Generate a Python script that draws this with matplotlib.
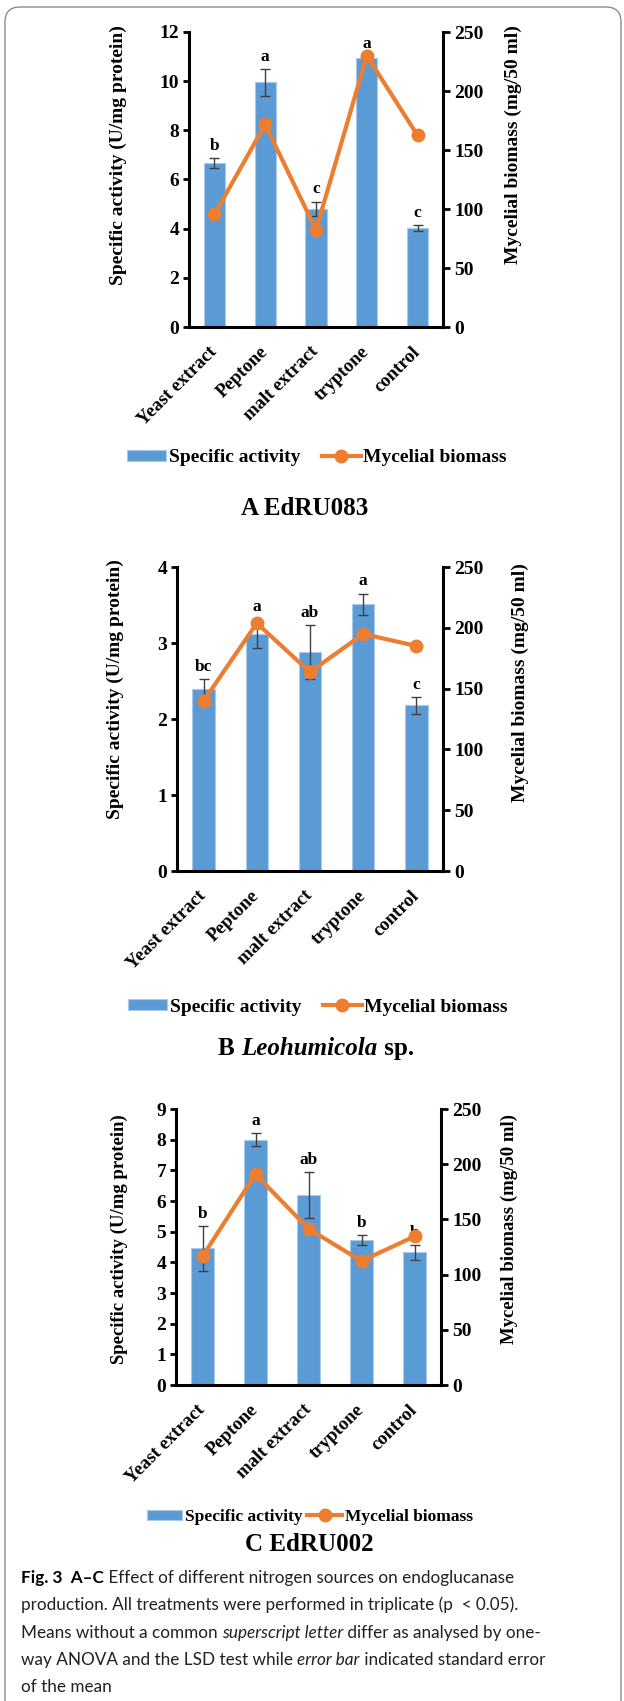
import numpy as np
import matplotlib
matplotlib.use('Agg')
import matplotlib.pyplot as plt
import matplotlib.transforms as mtransforms
from matplotlib.patches import FancyBboxPatch

W, H = 624, 1701
DPI = 100

plt.rcParams['font.family'] = ['Liberation Serif', 'DejaVu Serif']
plt.rcParams['font.weight'] = 'bold'

categories = ['Yeast extract', 'Peptone', 'malt extract', 'tryptone', 'control']

# A  EdRU083
act_a = [6.67, 9.95, 4.80, 10.93, 4.01]
err_a = [0.19, 0.54, 0.30, 0.10, 0.12]
bio_a = [95.4, 171.7, 82.2, 229.9, 162.3]
let_a = ['b', 'a', 'c', 'a', 'c']

# B  Leohumicola sp.
act_b = [2.39, 3.12, 2.88, 3.51, 2.18]
err_b = [0.14, 0.19, 0.36, 0.14, 0.11]
bio_b = [139.8, 203.8, 163.6, 194.9, 185.1]
let_b = ['bc', 'a', 'ab', 'a', 'c']

# C  EdRU002
act_c = [4.46, 8.00, 6.20, 4.73, 4.33]
err_c = [0.73, 0.22, 0.74, 0.16, 0.24]
bio_c = [116.5, 191.0, 141.5, 112.3, 134.6]
let_c = ['b', 'a', 'ab', 'b', 'b']

BLUE = '#5b9bd5'
ORANGE = '#ed7d31'

fig = plt.figure(figsize=(W / DPI, H / DPI), dpi=DPI)
renderer = fig.canvas.get_renderer()


def fx(px):
    return px / W


def fy(py):
    return 1 - py / H


def panel(box, act, err, bio, letters, ymax, ystep, lab_left, lab_right,
          leg_pos, leg_size=14, colsp=1.1, lab_size=14):
    l, t, r, b = box
    ax = fig.add_axes([fx(l), fy(b), (r - l) / W, (b - t) / H])
    x = np.arange(len(categories))
    bars = ax.bar(x, act, width=0.42, color=BLUE, edgecolor='#a9c9ea',
                  linewidth=0.8, zorder=2, label='Specific activity')
    ax.errorbar(x, act, yerr=err, fmt='none', ecolor='#404040',
                elinewidth=1.0, capsize=3.3, capthick=1.0, zorder=3)
    for xi, v, e, s in zip(x, act, err, letters):
        ax.annotate(s, (xi, v + e), xytext=(0, 3), textcoords='offset points',
                    ha='center', va='bottom', fontsize=12.5, fontweight='bold')
    ax.set_xlim(-0.5, 4.5)
    ax.set_ylim(0, ymax)
    ax.set_yticks(np.arange(0, ymax + 0.01, ystep))
    ax.set_xticks(x)
    ax.set_xticklabels(categories, rotation=45, ha='right', va='center',
                       rotation_mode='anchor', fontsize=13.5, fontweight='bold')
    off = mtransforms.ScaledTranslation(7 / DPI, 0, fig.dpi_scale_trans)
    for lab in ax.get_xticklabels():
        lab.set_transform(lab.get_transform() + off)
    ax.tick_params(axis='x', length=0, pad=16)
    ax.tick_params(axis='y', direction='out', length=4, width=2, labelsize=14, pad=3)
    for s in ['top', 'right']:
        ax.spines[s].set_visible(False)
    for s in ['left', 'bottom']:
        ax.spines[s].set_linewidth(2.2)

    ax2 = ax.twinx()
    line, = ax2.plot(x, bio, color=ORANGE, lw=3, marker='o', ms=9,
                     zorder=4, label='Mycelial biomass')
    ax2.set_ylim(0, 250)
    ax2.set_yticks(np.arange(0, 251, 50))
    ax2.tick_params(axis='y', direction='out', length=5, width=2, labelsize=14, pad=3)
    for s in ['top', 'left', 'bottom']:
        ax2.spines[s].set_visible(False)
    ax2.spines['right'].set_linewidth(2.2)

    ax.set_ylabel('Specific activity (U/mg protein)', fontsize=lab_size,
                  fontweight='bold', va='center', ha='center')
    ax.yaxis.set_label_coords(fx(lab_left[0]), fy(lab_left[1]), transform=fig.transFigure)
    ax2.set_ylabel('Mycelial biomass (mg/50 ml)', fontsize=lab_size,
                   fontweight='bold', va='center', ha='center')
    ax2.yaxis.set_label_coords(fx(lab_right[0]), fy(lab_right[1]), transform=fig.transFigure)

    ax2.legend([bars, line], ['Specific activity', 'Mycelial biomass'],
               loc='center', bbox_to_anchor=(fx(leg_pos[0]), fy(leg_pos[1])),
               bbox_transform=fig.transFigure, ncol=2, frameon=False,
               prop={'size': leg_size, 'weight': 'bold'},
               handlelength=2.0, handleheight=0.5, handletextpad=0.15,
               columnspacing=colsp, borderaxespad=0)
    return ax, ax2


def runs_text(runs, x, y, ha='left', **common):
    texts = []
    cur = x
    for s, props in runs:
        kw = dict(common)
        kw.update(props)
        t = fig.text(fx(cur), fy(y), s, ha='left', va='baseline', **kw)
        cur += t.get_window_extent(renderer).width
        texts.append(t)
    if ha == 'center':
        shift = (cur - x) / 2
        for t in texts:
            px, py = t.get_position()
            t.set_x(px - shift / W)
    return texts


panel((189, 32, 443, 327), act_a, err_a, bio_a, let_a, 12, 2,
      (118, 155), (513, 145), (317, 458))
panel((177, 567, 443, 871), act_b, err_b, bio_b, let_b, 4, 1,
      (115, 689), (520, 683), (318, 1007))
panel((176, 1109, 441, 1385), act_c, err_c, bio_c, let_c, 9, 1,
      (119, 1239), (509, 1229), (310, 1517), leg_size=12.5, colsp=0.3,
      lab_size=13.5)

B = {'fontweight': 'bold', 'fontsize': 18}
runs_text([('A EdRU083', B)], 305, 515, ha='center')
runs_text([('B ', B), ('Leohumicola', dict(B, fontstyle='italic')), (' sp.', B)],
          316, 1055, ha='center')
runs_text([('C EdRU002', B)], 309, 1551, ha='center')

cap = dict(family=['Lato', 'DejaVu Sans'], fontsize=12.3, color='#231f20',
           fontweight='normal')
capb = {'fontweight': 'bold', 'color': '#000000'}
capi = {'fontstyle': 'italic'}
caption = [
    [('Fig. 3  A\u2013C', capb), (' Effect of different nitrogen sources on endoglucanase', {})],
    [('production. All treatments were performed in triplicate (p  < 0.05).', {})],
    [('Means without a common ', {}), ('superscript letter', capi),
     (' differ as analysed by one-', {})],
    [('way ANOVA and the LSD test while ', {}), ('error bar', capi),
     (' indicated standard error', {})],
    [('of the mean', {})],
]
for i, line_runs in enumerate(caption):
    runs_text(line_runs, 21, 1583 + i * 27.3, **cap)

frame = FancyBboxPatch((0.05, -0.3), 6.16, 17.24,
                       boxstyle='round,pad=0,rounding_size=0.15',
                       transform=fig.dpi_scale_trans, fill=False,
                       edgecolor='#8c8c8c', linewidth=1.0)
fig.patches.append(frame)

fig.savefig('out.png', dpi=DPI)
